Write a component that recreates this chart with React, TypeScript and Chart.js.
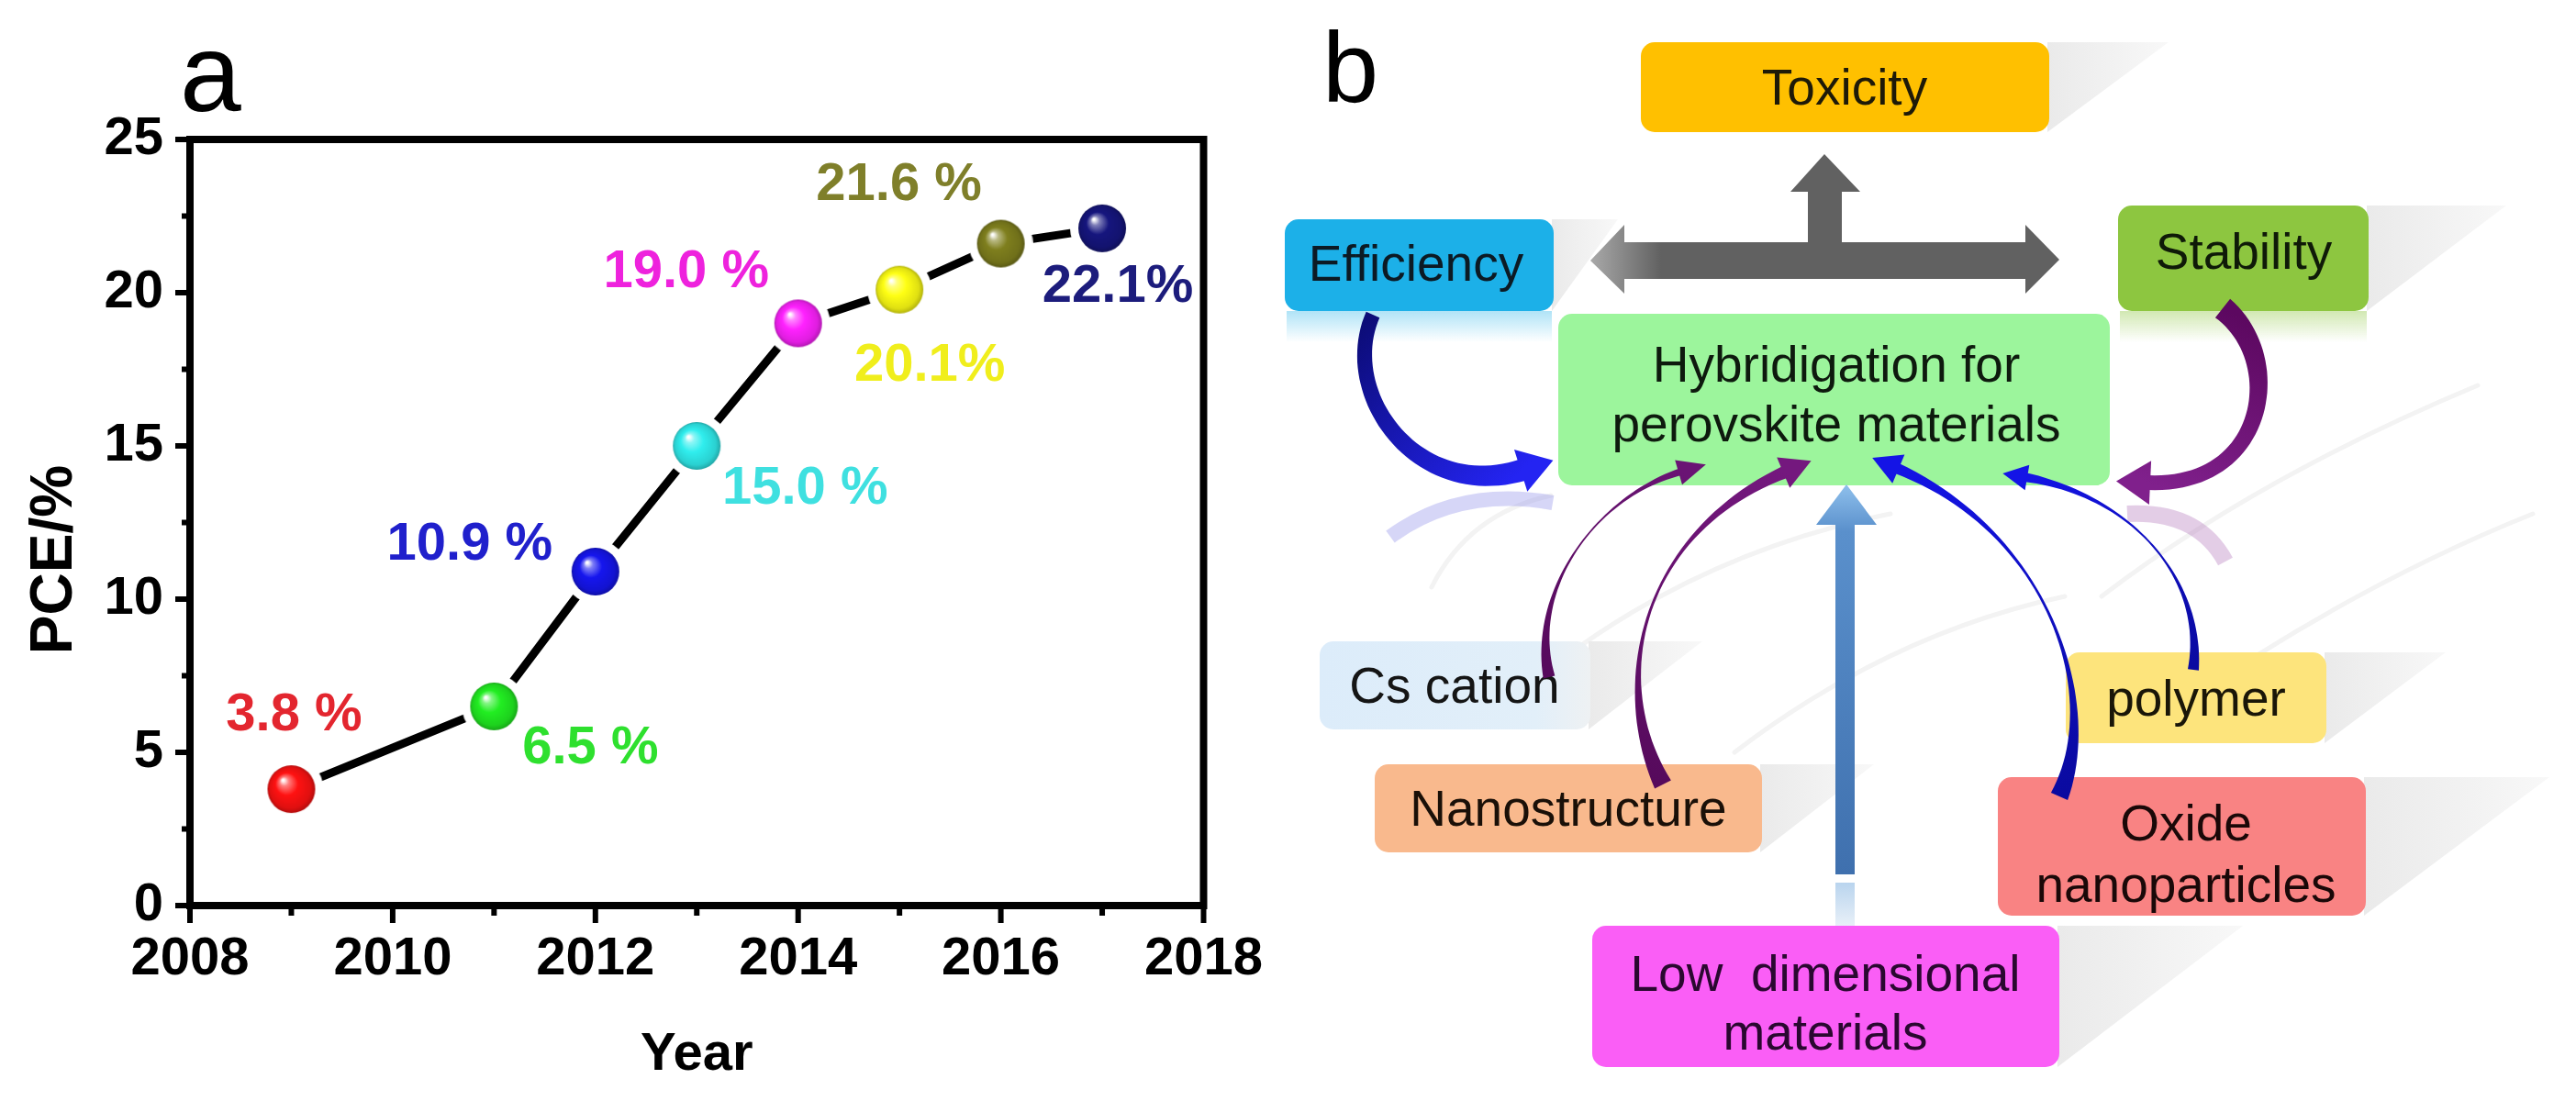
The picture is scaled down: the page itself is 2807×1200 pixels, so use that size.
import React, { useEffect, useRef } from 'react';
import { Chart, registerables } from 'chart.js';

Chart.register(...registerables);

// ---------- chart data ----------
const years = [2009, 2011, 2012, 2013, 2014, 2015, 2016, 2017];
const pce = [3.8, 6.5, 10.9, 15.0, 19.0, 20.1, 21.6, 22.1];
const valueLabels = ['3.8 %', '6.5 %', '10.9 %', '15.0 %', '19.0 %', '20.1%', '21.6 %', '22.1%'];
const ballColors = ['#ff1212', '#22ee22', '#1616ee', '#30eeee', '#ff22ff', '#ffff14', '#7f7f1e', '#16167e'];
const labelColors = ['#e3262f', '#2ee02e', '#2020cc', '#3fe0e0', '#ee22dd', '#f0ee1c', '#7f7f2a', '#1c1c7c'];
const xTickLabels = [2008, 2010, 2012, 2014, 2016, 2018];
const yTickLabels = [0, 5, 10, 15, 20, 25];
const xTitle = 'Year';
const yTitle = 'PCE/%';

// label offsets (style) relative to each point, in px
const labelOffsets: [number, number][] = [
  [3, -80], [105, 46], [-137, -29], [118, 47], [-122, -55], [33, 83], [-111, -64], [17, 64],
];

const FONT = '"Liberation Sans", Arial, Helvetica, sans-serif';

function hexToRgb(h: string): [number, number, number] {
  const v = h.replace('#', '');
  return [parseInt(v.slice(0, 2), 16), parseInt(v.slice(2, 4), 16), parseInt(v.slice(4, 6), 16)];
}
function shade(h: string, amt: number): string {
  const [r, g, b] = hexToRgb(h);
  const t = amt >= 0 ? 255 : 0;
  const a = Math.abs(amt);
  const m = (c: number) => Math.round(c + (t - c) * a);
  return `rgb(${m(r)},${m(g)},${m(b)})`;
}
function makeBall(color: string, r: number, gap: number): HTMLCanvasElement {
  const s = Math.ceil(2 * (r + gap));
  const c = document.createElement('canvas');
  c.width = s;
  c.height = s;
  const g = c.getContext('2d')!;
  const cx = s / 2;
  g.fillStyle = '#ffffff';
  g.beginPath();
  g.arc(cx, cx, r + gap, 0, Math.PI * 2);
  g.fill();
  const grad = g.createRadialGradient(cx - r * 0.35, cx - r * 0.38, r * 0.04, cx, cx, r);
  grad.addColorStop(0, 'rgba(255,255,255,0.95)');
  grad.addColorStop(0.16, shade(color, 0.45));
  grad.addColorStop(0.45, color);
  grad.addColorStop(0.85, shade(color, -0.12));
  grad.addColorStop(1, shade(color, -0.3));
  g.fillStyle = grad;
  g.beginPath();
  g.arc(cx, cx, r, 0, Math.PI * 2);
  g.fill();
  return c;
}

const decoPlugin = {
  id: 'deco',
  beforeDatasetsDraw(chart: any) {
    const { ctx, chartArea: a, scales } = chart;
    const x = scales.x;
    const y = scales.y;
    ctx.save();
    ctx.strokeStyle = '#000';
    ctx.lineWidth = 8;
    ctx.strokeRect(a.left, a.top, a.right - a.left, a.bottom - a.top);
    ctx.lineWidth = 6;
    x.ticks.forEach((t: any) => {
      const px = x.getPixelForValue(t.value);
      const len = xTickLabels.includes(t.value) ? 19 : 11;
      ctx.beginPath();
      ctx.moveTo(px, a.bottom);
      ctx.lineTo(px, a.bottom + len);
      ctx.stroke();
    });
    y.ticks.forEach((t: any) => {
      const py = y.getPixelForValue(t.value);
      const len = yTickLabels.includes(t.value) ? 16 : 9;
      ctx.beginPath();
      ctx.moveTo(a.left, py);
      ctx.lineTo(a.left - len, py);
      ctx.stroke();
    });
    ctx.restore();
  },
  afterDatasetsDraw(chart: any) {
    const { ctx, chartArea: a } = chart;
    const meta = chart.getDatasetMeta(0);
    ctx.save();
    ctx.font = `bold 58px ${FONT}`;
    ctx.textAlign = 'center';
    ctx.textBaseline = 'middle';
    meta.data.forEach((pt: any, i: number) => {
      ctx.fillStyle = labelColors[i];
      ctx.fillText(valueLabels[i], pt.x + labelOffsets[i][0], pt.y + labelOffsets[i][1]);
    });
    ctx.fillStyle = '#000';
    ctx.textBaseline = 'alphabetic';
    ctx.font = `bold 58px ${FONT}`;
    ctx.fillText(xTitle, (a.left + a.right) / 2, 1166);
    ctx.translate(78, 610);
    ctx.rotate(-Math.PI / 2);
    ctx.font = `bold 64px ${FONT}`;
    ctx.fillText(yTitle, 0, 0);
    ctx.restore();
  },
};

function LineChart() {
  const ref = useRef<HTMLCanvasElement | null>(null);
  useEffect(() => {
    if (!ref.current) return;
    const balls = ballColors.map((c) => makeBall(c, 26, 9));
    const chart = new Chart(ref.current, {
      type: 'line',
      data: {
        datasets: [
          {
            data: years.map((yr, i) => ({ x: yr, y: pce[i] })),
            borderColor: '#000',
            borderWidth: 9,
            pointStyle: balls as any,
            pointRadius: 26,
            pointHoverRadius: 26,
            tension: 0,
            fill: false,
          },
        ],
      },
      options: {
        animation: false,
        responsive: false,
        devicePixelRatio: 1,
        events: [],
        layout: { padding: { left: 0, top: 152, right: 68, bottom: 0 } },
        plugins: { legend: { display: false }, tooltip: { enabled: false } },
        scales: {
          x: {
            type: 'linear',
            min: 2008,
            max: 2018,
            afterFit: (s: any) => { s.height = 213; },
            grid: { display: false, drawTicks: false },
            border: { display: false },
            ticks: {
              stepSize: 1,
              autoSkip: false,
              maxRotation: 0,
              padding: 24,
              color: '#000',
              font: { family: FONT, size: 58, weight: 'bold' },
              callback: (v: any) => (xTickLabels.includes(Number(v)) ? String(v) : ''),
            },
          },
          y: {
            type: 'linear',
            min: 0,
            max: 25,
            afterFit: (s: any) => { s.width = 207; },
            grid: { display: false, drawTicks: false },
            border: { display: false },
            ticks: {
              stepSize: 2.5,
              autoSkip: false,
              padding: 29,
              color: '#000',
              font: { family: FONT, size: 58, weight: 'bold' },
              callback: (v: any) => (yTickLabels.includes(Number(v)) ? String(v) : ''),
            },
          },
        },
      } as any,
      plugins: [decoPlugin],
    });
    return () => chart.destroy();
  }, []);
  return <canvas ref={ref} width={1400} height={1200} style={{ position: 'absolute', left: 0, top: 0, width: 1400, height: 1200 }} />;
}

// ---------- diagram (panel b) ----------
type Pt = [number, number];
const boxes = [
  { x: 1788, y: 46, w: 445, h: 98, fill: '#ffc000', lines: ['Toxicity'], cx: 2010, base: [114], ext: 130, ink: '#1e1a08' },
  { x: 1400, y: 239, w: 293, h: 100, fill: '#1cb0e8', lines: ['Efficiency'], cx: 1543, base: [306], ext: 70, ink: '#0c1a24' },
  { x: 2308, y: 224, w: 273, h: 115, fill: '#8dc640', lines: ['Stability'], cx: 2445, base: [293], ext: 150, ink: '#0f1a08' },
  { x: 1698, y: 342, w: 601, h: 187, fill: '#9cf59c', lines: ['Hybridigation for', 'perovskite materials'], cx: 2001, base: [416, 481], ext: 0, ink: '#0e1a0e' },
  { x: 1438, y: 699, w: 295, h: 96, fill: 'url(#csGrad)', lines: ['Cs cation'], cx: 1585, base: [766], ext: 122, ink: '#151515' },
  { x: 1498, y: 833, w: 422, h: 96, fill: '#f9b98d', lines: ['Nanostructure'], cx: 1709, base: [900], ext: 122, ink: '#1a1008' },
  { x: 2251, y: 711, w: 284, h: 99, fill: '#fde47c', lines: ['polymer'], cx: 2393, base: [780], ext: 130, ink: '#1a1608' },
  { x: 2177, y: 847, w: 401, h: 151, fill: '#f98383', lines: ['Oxide', 'nanoparticles'], cx: 2382, base: [916, 983], ext: 200, ink: '#1a0808' },
  { x: 1735, y: 1009, w: 509, h: 154, fill: '#fa5ef6', lines: ['Low  dimensional', 'materials'], cx: 1989, base: [1080, 1144], ext: 200, ink: '#2a0830' },
];

const curvedArrows: { p0: Pt; c1: Pt; c2: Pt; p3: Pt; w: [number, number, number]; headW: number; headL: number; from: string; to: string }[] = [
  { p0: [1496, 343], c1: [1458, 430], c2: [1545, 548], p3: [1660, 512], w: [16, 18, 24], headW: 48, headL: 34, from: '#0c0c78', to: '#2424f2' },
  { p0: [2422, 336], c1: [2492, 392], c2: [2470, 532], p3: [2340, 526], w: [26, 18, 16], headW: 48, headL: 34, from: '#5c0860', to: '#80208c' },
  { p0: [1688, 738], c1: [1666, 640], c2: [1742, 540], p3: [1832, 514], w: [13, 2, 8], headW: 28, headL: 28, from: '#560a5c', to: '#6a1474' },
  { p0: [1812, 855], c1: [1752, 740], c2: [1790, 580], p3: [1946, 514], w: [20, 3, 14], headW: 36, headL: 30, from: '#560a5c', to: '#74187e' },
  { p0: [2244, 868], c1: [2292, 760], c2: [2232, 580], p3: [2066, 510], w: [20, 3, 12], headW: 34, headL: 28, from: '#0a0aa0', to: '#1414e6' },
  { p0: [2390, 730], c1: [2402, 630], c2: [2322, 540], p3: [2206, 520], w: [12, 2, 10], headW: 28, headL: 24, from: '#0a0aa0', to: '#1414e6' },
];

function bez(p0: Pt, c1: Pt, c2: Pt, p3: Pt, t: number): Pt {
  const u = 1 - t;
  return [
    u * u * u * p0[0] + 3 * u * u * t * c1[0] + 3 * u * t * t * c2[0] + t * t * t * p3[0],
    u * u * u * p0[1] + 3 * u * u * t * c1[1] + 3 * u * t * t * c2[1] + t * t * t * p3[1],
  ];
}
function bezD(p0: Pt, c1: Pt, c2: Pt, p3: Pt, t: number): Pt {
  const u = 1 - t;
  return [
    3 * u * u * (c1[0] - p0[0]) + 6 * u * t * (c2[0] - c1[0]) + 3 * t * t * (p3[0] - c2[0]),
    3 * u * u * (c1[1] - p0[1]) + 6 * u * t * (c2[1] - c1[1]) + 3 * t * t * (p3[1] - c2[1]),
  ];
}
function arrowPaths(a: (typeof curvedArrows)[number]) {
  const N = 48;
  const left: Pt[] = [];
  const right: Pt[] = [];
  for (let i = 0; i <= N; i++) {
    const t = i / N;
    const p = bez(a.p0, a.c1, a.c2, a.p3, t);
    const d = bezD(a.p0, a.c1, a.c2, a.p3, t);
    const len = Math.hypot(d[0], d[1]) || 1;
    const n: Pt = [-d[1] / len, d[0] / len];
    const [w0, wm, w1] = a.w;
    let w = w0 * (1 - t) * (1 - 2 * t) + wm * 4 * t * (1 - t) + w1 * t * (2 * t - 1);
    w = Math.max(w, 1.5);
    left.push([p[0] + (n[0] * w) / 2, p[1] + (n[1] * w) / 2]);
    right.push([p[0] - (n[0] * w) / 2, p[1] - (n[1] * w) / 2]);
  }
  const pts = left.concat(right.reverse());
  const body = 'M' + pts.map((p) => `${p[0].toFixed(1)} ${p[1].toFixed(1)}`).join(' L') + ' Z';
  const d = bezD(a.p0, a.c1, a.c2, a.p3, 1);
  const len = Math.hypot(d[0], d[1]) || 1;
  const u: Pt = [d[0] / len, d[1] / len];
  const n: Pt = [-u[1], u[0]];
  const b: Pt = [a.p3[0] - u[0] * 3, a.p3[1] - u[1] * 3];
  const tip: Pt = [a.p3[0] + u[0] * a.headL, a.p3[1] + u[1] * a.headL];
  const h1: Pt = [b[0] + (n[0] * a.headW) / 2, b[1] + (n[1] * a.headW) / 2];
  const h2: Pt = [b[0] - (n[0] * a.headW) / 2, b[1] - (n[1] * a.headW) / 2];
  const head = `M${h1[0].toFixed(1)} ${h1[1].toFixed(1)} L${tip[0].toFixed(1)} ${tip[1].toFixed(1)} L${h2[0].toFixed(1)} ${h2[1].toFixed(1)} Z`;
  return { body, head };
}

const greyArrow =
  'M1733 284 L1770 245 L1770 264 L1970 264 L1970 209 L1951 209 L1988 168 L2027 209 L2007 209 L2007 264 L2207 264 L2207 245 L2244 283 L2207 320 L2207 304 L1770 304 L1770 320 Z';

function Diagram() {
  return (
    <svg
      width={2807}
      height={1200}
      viewBox="0 0 2807 1200"
      style={{ position: 'absolute', left: 0, top: 0, pointerEvents: 'none' }}
      fontFamily={FONT}
    >
      <defs>
        <linearGradient id="csGrad" x1="0" y1="0" x2="1" y2="0">
          <stop offset="0" stopColor="#dcecfa" />
          <stop offset="0.8" stopColor="#e2eff9" />
          <stop offset="1" stopColor="#eef1f3" />
        </linearGradient>
        <linearGradient id="shadowGrad" x1="0" y1="0" x2="1" y2="0">
          <stop offset="0" stopColor="#eaeaea" />
          <stop offset="1" stopColor="#f8f8f8" />
        </linearGradient>
        <linearGradient id="greyGrad" gradientUnits="userSpaceOnUse" x1="1733" y1="0" x2="1810" y2="0">
          <stop offset="0" stopColor="#a9a9a9" />
          <stop offset="1" stopColor="#616161" />
        </linearGradient>
        <linearGradient id="steelGrad" gradientUnits="userSpaceOnUse" x1="0" y1="528" x2="0" y2="953">
          <stop offset="0" stopColor="#8fc0ec" />
          <stop offset="0.12" stopColor="#5a90cc" />
          <stop offset="1" stopColor="#3f70ae" />
        </linearGradient>
        <linearGradient id="steelFade" x1="0" y1="0" x2="0" y2="1">
          <stop offset="0" stopColor="#b9d4ee" />
          <stop offset="1" stopColor="#e8f0f8" />
        </linearGradient>
        <linearGradient id="effRefl" x1="0" y1="0" x2="0" y2="1">
          <stop offset="0" stopColor="#1cb0e8" stopOpacity="0.35" />
          <stop offset="1" stopColor="#1cb0e8" stopOpacity="0" />
        </linearGradient>
        <linearGradient id="stabRefl" x1="0" y1="0" x2="0" y2="1">
          <stop offset="0" stopColor="#8dc640" stopOpacity="0.4" />
          <stop offset="1" stopColor="#8dc640" stopOpacity="0" />
        </linearGradient>
        {curvedArrows.map((a, i) => (
          <linearGradient key={i} id={`ag${i}`} gradientUnits="userSpaceOnUse" x1={a.p0[0]} y1={a.p0[1]} x2={a.p3[0]} y2={a.p3[1]}>
            <stop offset="0" stopColor={a.from} />
            <stop offset="1" stopColor={a.to} />
          </linearGradient>
        ))}
      </defs>

      {/* panel letters */}
      <text x={196} y={121} fontSize={120} fill="#000">a</text>
      <text x={1441} y={111} fontSize={110} fill="#000">b</text>

      {/* faint background swooshes */}
      <g fill="none" stroke="#f3f3f3" strokeWidth={5} strokeLinecap="round">
        <path d="M1700 720 Q1860 600 2060 560" />
        <path d="M1890 820 Q2060 690 2250 650" />
        <path d="M2290 650 Q2460 520 2700 420" />
        <path d="M2360 780 Q2560 640 2760 560" />
        <path d="M1560 640 Q1600 560 1690 540" />
      </g>

      {/* perspective shadows */}
      {boxes.filter((b) => b.ext > 0).map((b, i) => (
        <polygon
          key={`s${i}`}
          points={`${b.x + b.w - 2},${b.y} ${b.x + b.w + b.ext},${b.y} ${b.x + b.w - 2},${b.y + b.h}`}
          fill="url(#shadowGrad)"
        />
      ))}

      {/* reflections */}
      <rect x={1402} y={339} width={289} height={34} fill="url(#effRefl)" />
      <rect x={2310} y={339} width={269} height={34} fill="url(#stabRefl)" />
      <path d="M1515 585 Q1590 530 1692 548" fill="none" stroke="#8a8ae8" strokeOpacity={0.35} strokeWidth={16} />
      <path d="M2318 560 Q2395 556 2425 612" fill="none" stroke="#b070b8" strokeOpacity={0.35} strokeWidth={18} />

      {/* boxes */}
      {boxes.map((b, i) => (
        <g key={`b${i}`}>
          <rect x={b.x} y={b.y} width={b.w} height={b.h} rx={15} ry={15} fill={b.fill} />
          {b.lines.map((ln, j) => (
            <text
              key={j}
              x={b.cx}
              y={b.base[j]}
              fontSize={55}
              fill={b.ink}
              textAnchor="middle"
              style={{ whiteSpace: 'pre' }}
            >
              {ln}
            </text>
          ))}
        </g>
      ))}

      {/* grey T arrow */}
      <path d={greyArrow} fill="url(#greyGrad)" />

      {/* steel blue vertical arrow */}
      <rect x={2000} y={962} width={21} height={47} fill="url(#steelFade)" />
      <rect x={2000} y={568} width={21} height={385} fill="url(#steelGrad)" />
      <polygon points="1979,572 2012,528 2045,572" fill="url(#steelGrad)" />

      {/* curved arrows */}
      {curvedArrows.map((a, i) => {
        const p = arrowPaths(a);
        return (
          <g key={`a${i}`} fill={`url(#ag${i})`}>
            <path d={p.body} />
            <path d={p.head} />
          </g>
        );
      })}
    </svg>
  );
}

export default function App() {
  return (
    <div style={{ position: 'absolute', left: 0, top: 0, width: 2807, height: 1200, background: '#ffffff', overflow: 'hidden' }}>
      <LineChart />
      <Diagram />
    </div>
  );
}
